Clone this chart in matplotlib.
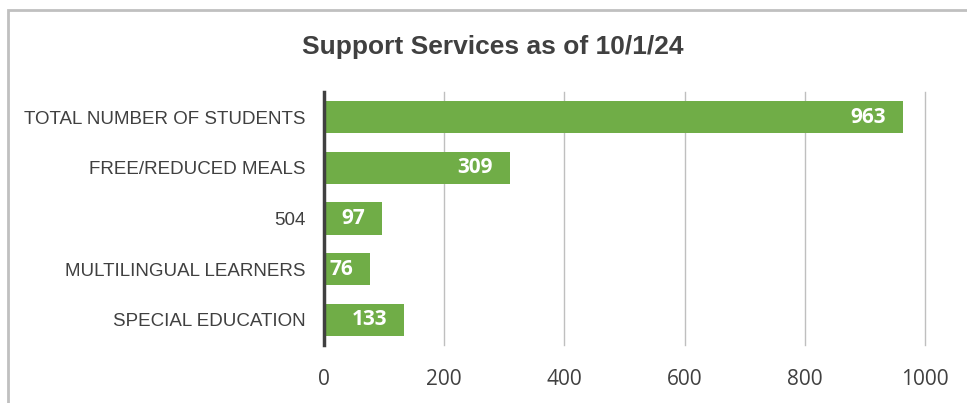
import matplotlib.pyplot as plt
from matplotlib.patches import Rectangle

# data
categories = ['TOTAL NUMBER OF STUDENTS', 'FREE/REDUCED MEALS', '504',
              'MULTILINGUAL LEARNERS', 'SPECIAL EDUCATION']
values = [963, 309, 97, 76, 133]
xticks = [0, 200, 400, 600, 800, 1000]

GREEN = '#70ad47'

fig = plt.figure(figsize=(9.67, 4.03), dpi=100)
ax = fig.add_axes([324 / 967, 1 - 345 / 403, 601 / 967, 253 / 403])

ypos = list(range(len(categories)))
bars = ax.barh(ypos, values, height=0.64, color=GREEN, zorder=3)
ax.set_ylim(len(categories) - 0.5, -0.5)
ax.set_xlim(0, 1000)

# value labels inside bar ends
for b, v in zip(bars, values):
    ax.text(b.get_width() - 28, b.get_y() + b.get_height() / 2, str(v),
            ha='right', va='center', color='white', fontsize=15,
            fontweight='bold', family='Open Sans', zorder=4)

ax.set_yticks(ypos)
ax.set_yticklabels(categories, family='Liberation Sans', fontsize=13.5,
                   color='#404040')
ax.set_xticks(xticks)
ax.set_xticklabels([str(t) for t in xticks], family='Open Sans',
                   fontsize=15, color='#404040')
ax.tick_params(axis='both', length=0)
ax.tick_params(axis='x', pad=17)
ax.tick_params(axis='y', pad=13)

ax.grid(axis='x', color='#bfbfbf', linewidth=1, zorder=0)
for line in ax.get_xgridlines():
    line.set_clip_on(False)
for s in ['top', 'right', 'bottom']:
    ax.spines[s].set_visible(False)
ax.spines['left'].set_color('#404040')
ax.spines['left'].set_linewidth(2.5)
ax.spines['left'].set_zorder(5)

fig.text(493 / 967, 1 - 47 / 403, 'Support Services as of 10/1/24',
         ha='center', va='center', fontsize=19, fontweight='bold',
         family='Liberation Sans', color='#404040')

# chart border (cropped at right/bottom)
fig.patches.append(Rectangle((8 / 967, -0.1), 1.2, 1 - 10 / 403 + 0.1,
                             transform=fig.transFigure, fill=False,
                             edgecolor='#c0c0c0', linewidth=2))

fig.savefig('out.png', dpi=100)
